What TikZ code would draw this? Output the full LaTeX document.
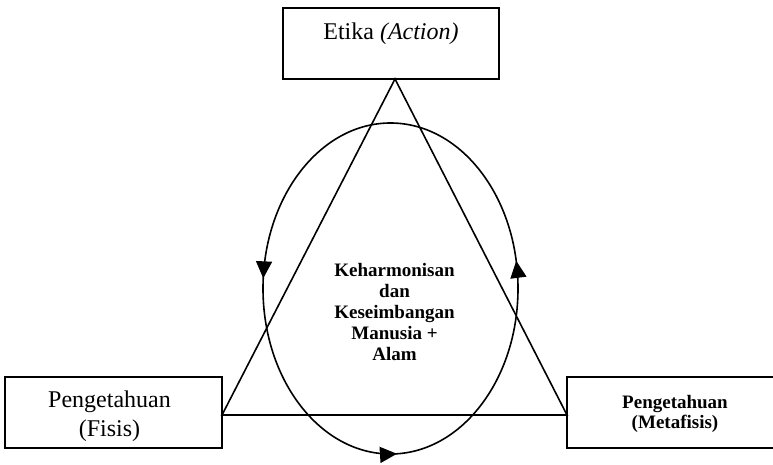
\documentclass[tikz,border=0pt]{standalone}
\usepackage{fontspec}
\setmainfont{Liberation Serif}
\usepackage{tikz}
\usetikzlibrary{arrows.meta}
\usetikzlibrary{decorations.markings}
\usetikzlibrary{shapes,positioning}
\tikzset{diag-line/.style={line width=1.6pt}}
\tikzset{pillar-box/.style={draw, line width=1.6pt, inner sep=0, minimum width=216pt, minimum height=71pt}}
\tikzset{big-text/.style={font=\fontsize{24}{29}\selectfont, align=center}}
\tikzset{small-bold/.style={font=\fontsize{19}{20}\selectfont\bfseries, align=center}}
\tikzset{cycle-arrow/.style={
    decoration={markings,
        mark=at position 0.030 with {\arrow{Triangle[length=17pt, width=16pt]}},
        mark=at position 0.489 with {\arrow{Triangle[length=17pt, width=16pt]}},
        mark=at position 0.757 with {\arrow{Triangle[length=17pt, width=16pt]}}},
    postaction={decorate}
}}

\begin{document}
\begin{tikzpicture}[x=1pt, y=-1pt]
    \useasboundingbox (0,0) rectangle (773,465);

    % the three boxes
    \node[pillar-box, label={[big-text, yshift=10pt]center:Etika \textit{(Action)}}] (etika) at (391,43.5) {};
    \node[pillar-box, minimum width=217pt, label={[big-text, xshift=-4pt, yshift=-4pt]center:Pengetahuan\\(Fisis)}] (fisis) at (113.5,412.5) {};
    \node[pillar-box, label={[small-bold, yshift=-1pt]center:Pengetahuan\\(Metafisis)}] (metafisis) at (675,412.5) {};

    % triangle
    \coordinate (puncak) at (395,79);
    \coordinate (kiri) at (222,415);
    \coordinate (kanan) at (567,415);
    \draw[diag-line, line join=miter] (puncak) -- (kiri) -- (kanan) -- cycle;

    % cycle
    \draw[diag-line, cycle-arrow] (390.5,288.5) ellipse [x radius=127.5pt, y radius=165.5pt];

    \node[font=\fontsize{19}{21}\selectfont\bfseries, align=center] (harmoni) at (394.5,312) {Keharmonisan\\dan\\Keseimbangan\\Manusia +\\Alam};
\end{tikzpicture}
\end{document}
